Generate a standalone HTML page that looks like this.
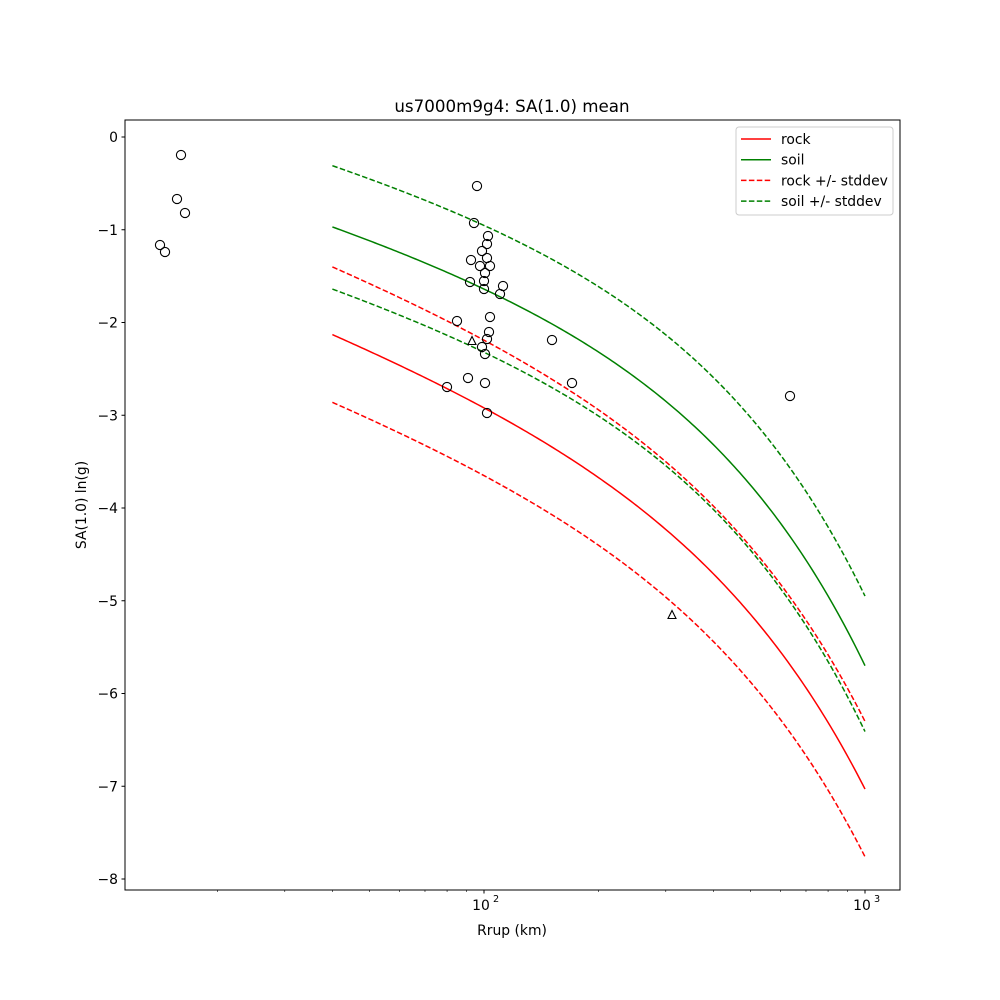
<!DOCTYPE html>
<html><head><meta charset="utf-8"><style>body{margin:0;background:#fff}svg{display:block}text{font-family:"DejaVu Sans","Liberation Sans",sans-serif}</style></head>
<body>
<svg id="s" width="1000" height="1000" xmlns="http://www.w3.org/2000/svg"></svg>
<script>
const s=document.getElementById('s');let h='';
const X=r=>484+(Math.log10(r)-2)*381, Y=v=>137-v*92.75;
h+='<rect width="1000" height="1000" fill="#fff"/>';
function curve(A,B,C,o0,o1,col,dash){let p=[];for(let i=0;i<=200;i++){const t=i/200;const r=40*Math.pow(25,t);const v=A-B*Math.log(r)-C*r+o0+(o1-o0)*t;p.push(X(r).toFixed(2)+','+Y(v).toFixed(2));}
h+=`<polyline points="${p.join(' ')}" fill="none" stroke="${col}" stroke-width="1.5" ${dash?'stroke-dasharray="5.5,2.4"':''}/>`;}
const R=[0.479,0.6767,0.002835],S=[1.089,0.5236,0.003172];
curve(...R,0,0,'#ff0000',0);curve(...S,0,0,'#008000',0);
curve(...R,0.73,0.73,'#ff0000',1);curve(...R,-0.73,-0.73,'#ff0000',1);
curve(...S,0.66,0.75,'#008000',1);curve(...S,-0.67,-0.71,'#008000',1);
const pts=[[181,155],[177,199],[185,213],[160,245],[165,252],[477,186],[474,223],[488,236],[487,244],[482,251],[471,260],[487,258],[480,266],[490,266],[485,273],[484,281],[470,282],[484,289],[503,286],[500,294],[490,317],[457,321],[489,332],[487,339],[482,347],[485,354],[552,340],[468,378],[485,383],[447,387],[572,383],[487,413],[790,396]];
pts.forEach(p=>h+=`<circle cx="${p[0]}" cy="${p[1]}" r="4.6" fill="none" stroke="#000" stroke-width="1.1"/>`);
[[472,341],[672,615]].forEach(p=>h+=`<polygon points="${p[0]},${p[1]-4.5} ${p[0]-4},${p[1]+3.5} ${p[0]+4},${p[1]+3.5}" fill="none" stroke="#000" stroke-width="1.1"/>`);
h+='<rect x="125" y="120" width="775" height="770" fill="none" stroke="#000" stroke-width="1"/>';
for(let v=0;v>=-8;v--){const y=Y(v);h+=`<line x1="125" x2="121.5" y1="${y}" y2="${y}" stroke="#000"/><text x="118" y="${y+5}" font-size="13.9" text-anchor="end">${v==0?'0':'\u2212'+(-v)}</text>`;}
[100,1000].forEach((r,i)=>{const x=X(r);h+=`<line x1="${x}" x2="${x}" y1="890" y2="893.5" stroke="#000"/><text x="${x-3}" y="910" font-size="13.9" text-anchor="middle">10</text><text x="${x+9}" y="902" font-size="9.7">${i+2}</text>`;});
[20,30,40,50,60,70,80,90,200,300,400,500,600,700,800,900].forEach(r=>{const x=X(r);h+=`<line x1="${x}" x2="${x}" y1="890" y2="892" stroke="#000" stroke-width="0.6"/>`;});
h+='<text x="512" y="935" font-size="13.9" text-anchor="middle">Rrup (km)</text>';
h+='<text transform="translate(86,505) rotate(-90)" font-size="13.9" text-anchor="middle">SA(1.0) ln(g)</text>';
h+='<text x="512" y="112" font-size="16.7" text-anchor="middle">us7000m9g4: SA(1.0) mean</text>';
h+='<rect x="736" y="127" width="157" height="88" rx="3" fill="#fff" fill-opacity="0.8" stroke="#ccc"/>';
[['rock','#ff0000',0],['soil','#008000',0],['rock +/- stddev','#ff0000',1],['soil +/- stddev','#008000',1]].forEach((l,i)=>{const y=139+i*20.7;h+=`<line x1="741" x2="771" y1="${y}" y2="${y}" stroke="${l[1]}" stroke-width="1.5" ${l[2]?'stroke-dasharray="5.5,2.4"':''}/><text x="781" y="${y+5}" font-size="13.9">${l[0]}</text>`;});
s.innerHTML=h;
</script>
</body></html>
